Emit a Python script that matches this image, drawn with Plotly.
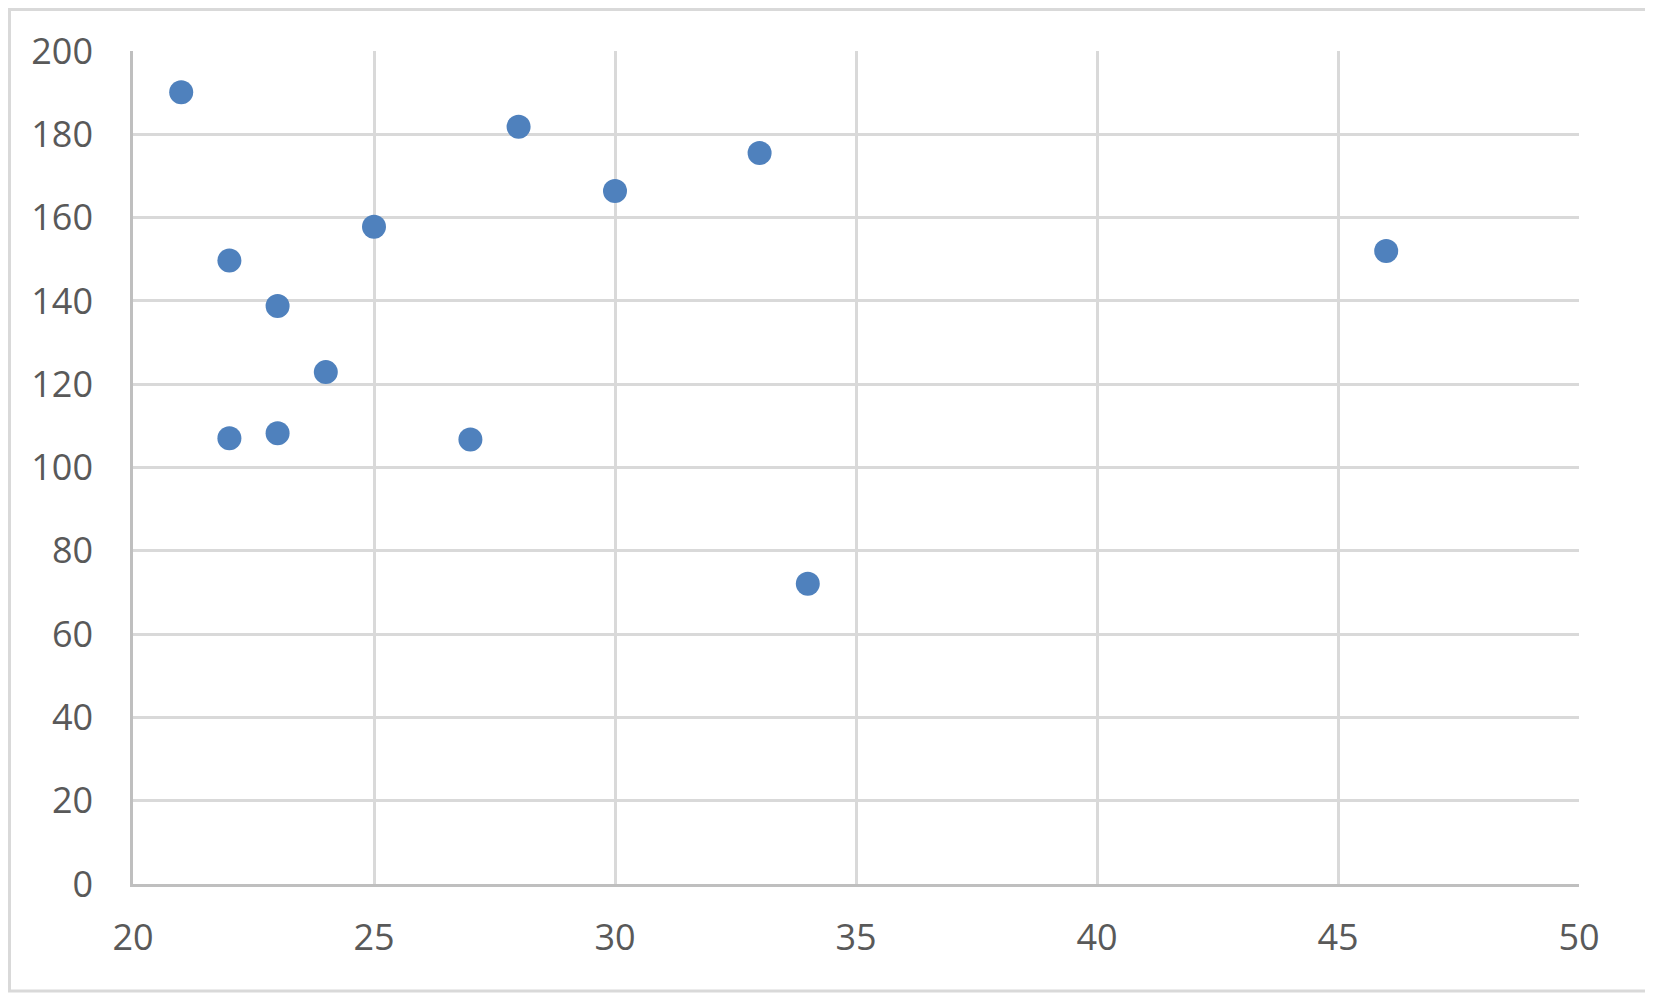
import plotly.graph_objects as go

# values
x_vals = [21, 22, 22, 23, 23, 24, 25, 27, 28, 30, 33, 34, 46]
y_vals = [190.1, 149.7, 107.0, 138.8, 108.2, 122.9, 157.8, 106.7, 181.8, 166.4, 175.5, 72.1, 152.0]

x_ticks = [20, 25, 30, 35, 40, 45, 50]
y_ticks = [0, 20, 40, 60, 80, 100, 120, 140, 160, 180, 200]

grid_color = '#d9d9d9'
text_color = '#595959'

# page body has an 8px margin, so the figure is 8px smaller than the window
W, H = 1645, 985
ml, mr, mt, mb = 125, 74, 43, 109
pw, ph = W - ml - mr, H - mt - mb

fig = go.Figure(
    data=[
        go.Scatter(
            x=x_vals,
            y=y_vals,
            mode='markers',
            marker=dict(color='#4f81bd', size=24, line=dict(width=0)),
            showlegend=False,
        )
    ]
)

fig.update_layout(
    width=W,
    height=H,
    margin=dict(l=ml, r=mr, t=mt, b=mb),
    plot_bgcolor='white',
    paper_bgcolor='white',
    font=dict(family='Open Sans', size=36, color=text_color),
    # light frame round the whole chart
    shapes=[dict(type='rect', xref='paper', yref='paper',
                 x0=(-ml + 1.5) / pw, x1=(W - 3 - ml) / pw,
                 y0=-(mb - 2) / ph, y1=1 + (mt - 1.5) / ph,
                 line=dict(color=grid_color, width=3))],
)

fig.update_xaxes(
    range=[20, 50],
    tickvals=x_ticks,
    showgrid=True,
    gridcolor=grid_color,
    gridwidth=2.5,
    zeroline=False,
    showline=True,
    linecolor='#bfbfbf',
    linewidth=2.5,
    ticks='',
    ticklabelstandoff=20,
)
fig.update_yaxes(
    range=[0, 200],
    tickvals=y_ticks,
    showgrid=True,
    gridcolor=grid_color,
    gridwidth=2.5,
    zeroline=False,
    showline=True,
    linecolor='#bfbfbf',
    linewidth=2.5,
    ticks='',
    ticklabelstandoff=30,
)

fig.write_html("out.html")
